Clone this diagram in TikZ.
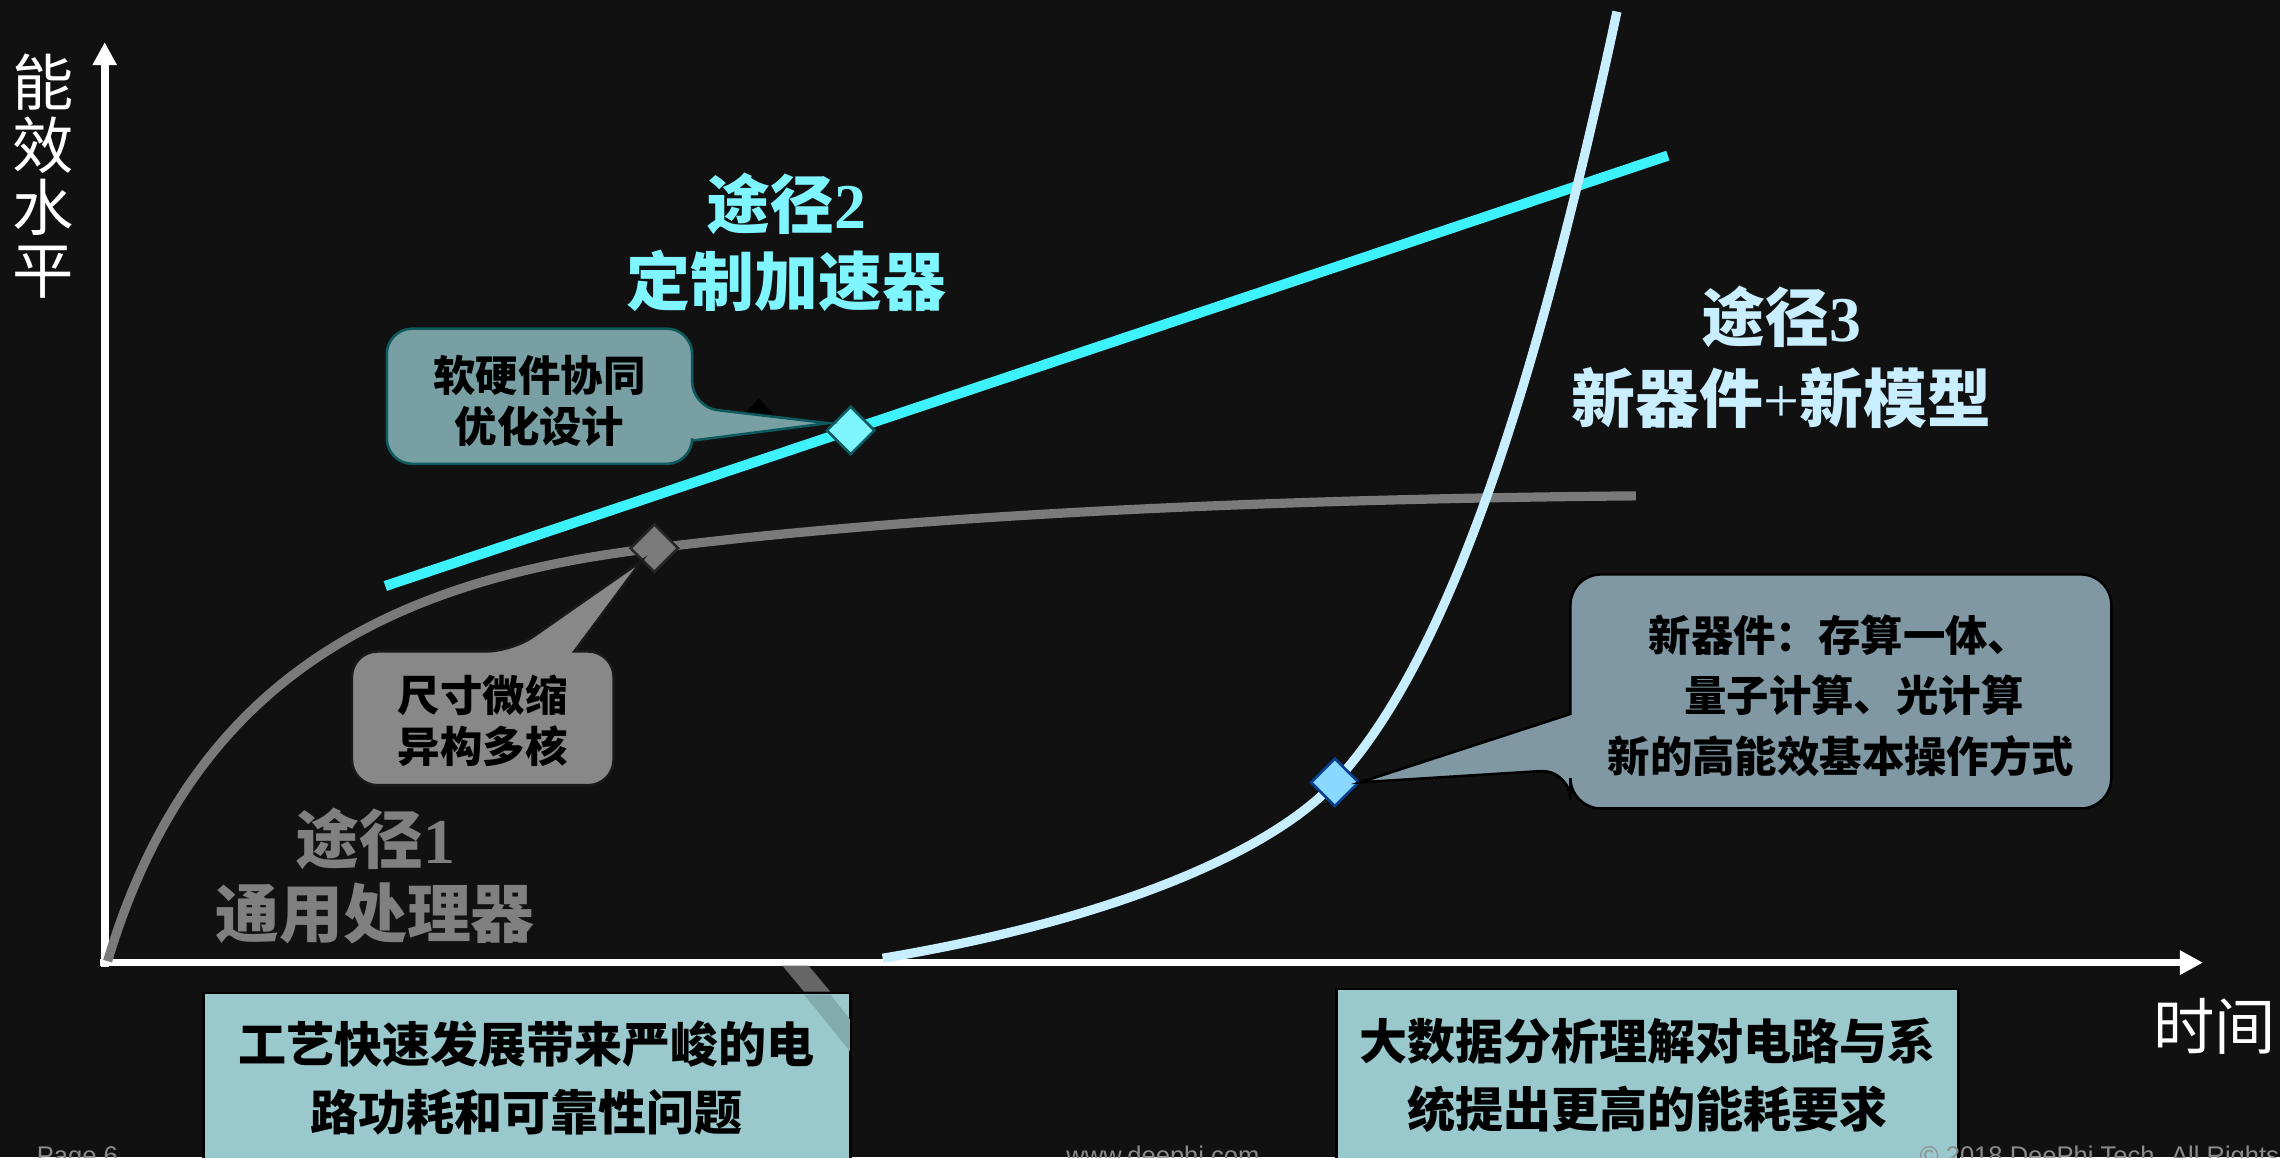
\documentclass[tikz,border=0pt]{standalone}
\usepackage{fontspec}
\setmainfont{Liberation Sans}
\newfontfamily\cjk{Noto Sans CJK SC}
\newfontfamily\lserif{Liberation Serif}
\usetikzlibrary{arrows.meta,shapes.geometric,calc}
\definecolor{bgc}{HTML}{111111}
\definecolor{grayline}{HTML}{7A7A7A}
\definecolor{cyanline}{HTML}{3EF2FB}
\definecolor{blueline}{HTML}{C6EEFF}
\definecolor{tone}{HTML}{808080}
\definecolor{ttwo}{HTML}{7FF6FF}
\definecolor{tthree}{HTML}{C8EEFF}
\definecolor{cfillA}{HTML}{78A0A4}
\definecolor{cdrawA}{HTML}{0E5A5E}
\definecolor{cfillB}{HTML}{888888}
\definecolor{cfillC}{HTML}{7F98A3}
\definecolor{boxfill}{HTML}{99C9CD}
\definecolor{footc}{HTML}{8C8C8C}
\definecolor{dthree}{HTML}{88D8FF}
\tikzset{
  axisline/.style={white, line width=3pt, -{Triangle[length=9pt,width=9pt]}},
  curveline/.style={line width=3.6pt},
  dia/.style={diamond, minimum width=19pt, minimum height=19pt, inner sep=0pt, line width=1pt},
  axislab/.style={text=white, inner sep=0pt, align=center, font=\cjk\fontsize{24pt}{24.5pt}\selectfont},
  ttl/.style={inner sep=0pt, font=\fontsize{25pt}{29pt}\selectfont\bfseries},
  ctext/.style={inner sep=0pt, align=center, text=black, font=\cjk\fontsize{16.6pt}{20pt}\selectfont\bfseries},
  btext/.style={inner sep=0pt, text=black, font=\cjk\fontsize{18.8pt}{22pt}\selectfont\bfseries},
  bottombox/.style={fill=boxfill, draw=black, line width=1pt},
  foot/.style={inner sep=0pt, anchor=base west, text=footc, font=\fontsize{10pt}{12pt}\selectfont}
}
\begin{document}
\begin{tikzpicture}[x=0.02cm,y=-0.02cm]
\fill[bgc] (0,0) rectangle (1568,796);
\useasboundingbox (0,0) rectangle (1568,796);
\clip (0,0) rectangle (1568,796);

% axes
\coordinate (ytip) at (72,29);
\coordinate (xtip) at (1515,662);
\draw[axisline] (72,665) -- (ytip);
\draw[axisline] (69,662) -- (xtip);

% key points
\coordinate (p1) at (450,377);
\coordinate (p2) at (585,296);
\coordinate (p3) at (918,538);

% path 1 (gray)
\draw[curveline, grayline] (74,661) .. controls (128,480) and (250,400) .. (p1)
   .. controls (650,352) and (900,343) .. (1125,341);
% path 2 (cyan)
\draw[line width=4pt, cyanline] (265,403) -- (1147,107);
% path 3 (light blue)
\draw[curveline, blueline] (607,659) .. controls (780,630) and (880,580) .. (p3)
   .. controls (1000,450) and (1060,250) .. (1112,8);

% small black peak behind callout 1
\fill[black] (509,288) -- (522,274) -- (535,288) -- cycle;

% diamonds
\node[dia, fill=tone!95!black, draw=black!85] (d1) at (p1) {};
\node[dia, fill=ttwo, draw=cdrawA] (d2) at (p2) {};
\node[dia, fill=dthree, draw=cdrawA!70!blue] (d3) at (p3) {};

% callout 1
\draw[fill=cfillA, draw=cdrawA, line width=1pt]
  (266,260) [rounded corners=10pt] -- (266,226) -- (476,226) -- (476,280)
  [sharp corners] -- ($(d2.west)+(2,-5)$) -- (476,303)
  [rounded corners=10pt] -- (476,319) -- (266,319) -- cycle;
\node[ctext] (c1) at (371,275.5) {软硬件协同\\优化设计};

% callout 2
\draw[fill=cfillB, draw=black!90, line width=1pt]
  (242,500) [rounded corners=10pt] -- (242,448) -- (352,448)
  [sharp corners] -- (d1.south west) -- (395,448)
  [rounded corners=10pt] -- (422,448) -- (422,540) -- (242,540) -- cycle;
\node[ctext] (c2) at (332,495.5) {尺寸微缩\\异构多核};

% callout 3
\draw[fill=cfillC, draw=black, line width=1pt]
  (1080,450) [rounded corners=12pt] -- (1080,395) -- (1452,395) -- (1452,556) -- (1080,556) -- (1080,529)
  [sharp corners] -- (d3.east) -- (1080,491)
  [rounded corners=12pt] -- cycle;
\node[ctext] (c3a) at (1265,437) {新器件：存算一体、};
\node[ctext] (c3b) at (1275,478) {量子计算、光计算};
\node[ctext] (c3c) at (1266,520) {新的高能效基本操作方式};

% titles
\node[ttl, text=tone] (t1a) at (258,577) {\cjk 途径\lserif 1};
\node[ttl, text=tone] (t1b) at (258,628) {\cjk 通用处理器};
\node[ttl, text=ttwo] (t2a) at (541,140) {\cjk 途径\lserif 2};
\node[ttl, text=ttwo] (t2b) at (541,193) {\cjk 定制加速器};
\node[ttl, text=tthree] (t3a) at (1225,218) {\cjk 途径\lserif 3};
\node[ttl, text=tthree] (t3b) at (1225,274) {\cjk 新器件{\lserif\mdseries +}新模型};

% axis labels
\node[axislab] (ylab) at (30,121) {能\\效\\水\\平};
\node[axislab] (xlab) at (1523,706) {时间};

% bottom boxes
\draw[bottombox] (140,683) rectangle (585,800);
\fill[white!40!black] (538,664) -- (556,664) -- (571,682) -- (553,682) -- cycle;
\fill[boxfill!85!black] (553,684) -- (571,684) -- (584.5,701) -- (584.5,723) -- cycle;
\node[btext] (ba1) at (362,718) {工艺快速发展带来严峻的电};
\node[btext] (ba2) at (362,765) {路功耗和可靠性问题};
\draw[bottombox] (919,680) rectangle (1347,800);
\node[btext] (bb1) at (1133,716) {大数据分析理解对电路与系};
\node[btext] (bb2) at (1133,763) {统提出更高的能耗要求};

% footer (cut off by the page edge, as in the reference)
\node[foot] (pg) at (25,801) {Page 6};
\node[foot] (web) at (733,801) {www.deephi.com};
\node[foot] (copy) at (1320,801) {© 2018 DeePhi Tech. All Rights Reserved};
\end{tikzpicture}
\end{document}
